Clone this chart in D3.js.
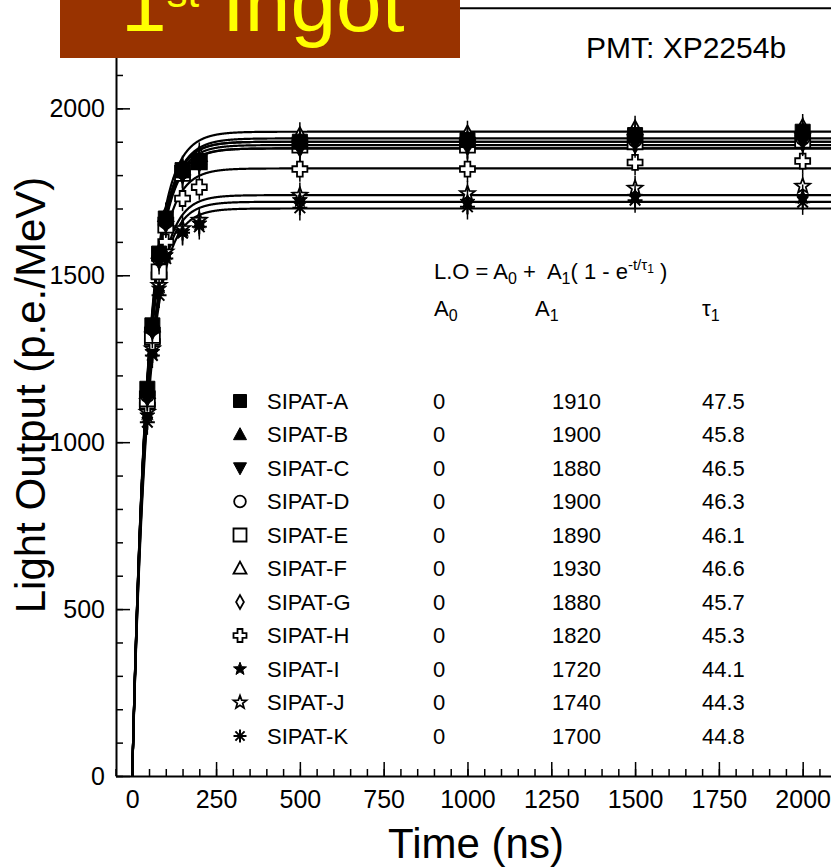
<!DOCTYPE html>
<html><head><meta charset="utf-8">
<script src="https://cdn.jsdelivr.net/npm/d3@7"></script>
<style>
html,body{margin:0;padding:0;background:#fff;}
svg{display:block;font-family:"Liberation Sans",Arial,Helvetica,sans-serif;}
text{white-space:pre;}
</style></head>
<body>
<svg id="c" width="831" height="868"></svg>
<script>
// ---------------- data ----------------
const times = [45, 60, 80, 100, 150, 200, 500, 1000, 1500, 2000];
const names = ["SIPAT-A","SIPAT-B","SIPAT-C","SIPAT-D","SIPAT-E","SIPAT-F","SIPAT-G","SIPAT-H","SIPAT-I","SIPAT-J","SIPAT-K"];
const markers = ["sqF","triF","triDF","circO","sqO","triO","diaO","crossO","starF","starO","aster"];
const A0 = [0,0,0,0,0,0,0,0,0,0,0];
const A1 = [1910,1900,1880,1900,1890,1930,1880,1820,1720,1740,1700];
const tau1 = [47.5,45.8,46.5,46.3,46.1,46.6,45.7,45.3,44.1,44.3,44.8];
const valsA = [1160,1350,1565,1670,1815,1840,1900,1905,1920,1930];
const valsB = [1150,1345,1560,1670,1810,1850,1905,1910,1925,1935];
const valsC = [1130,1330,1540,1650,1800,1840,1880,1885,1895,1900];
const valsD = [1140,1340,1550,1660,1810,1845,1895,1900,1905,1910];
const valsE = [1130,1320,1510,1650,1805,1840,1890,1890,1900,1905];
const valsF = [1150,1350,1570,1680,1820,1860,1920,1925,1940,1945];
const valsG = [1135,1335,1545,1655,1800,1835,1880,1885,1890,1895];
const valsH = [1110,1300,1500,1600,1730,1764,1818,1818,1838,1842];
const valsI = [1080,1270,1460,1560,1630,1655,1725,1720,1735,1734];
const valsJ = [1090,1280,1470,1570,1640,1665,1740,1745,1761,1767];
const valsK = [1060,1260,1440,1550,1627,1645,1702,1705,1725,1719];
const seriesVals = [valsA,valsB,valsC,valsD,valsE,valsF,valsG,valsH,valsI,valsJ,valsK];
const errBar = 38;
const xTicksMajor = [0,250,500,750,1000,1250,1500,1750,2000];
const yTicksMajor = [0,500,1000,1500,2000];

// ---------------- scales ----------------
const svg = d3.select("#c");
const X = d3.scaleLinear().domain([-50, 2100]).range([115.5, 836.2]);
const Y = d3.scaleLinear().domain([0, 2300]).range([776, 8.2]);

// ---------------- marker paths ----------------
function markerPath(type, s) {
  const h = s/2;
  const p = d3.path();
  switch (type) {
    case "sqF": case "sqO":
      p.rect(-h, -h, s, s); break;
    case "triF": case "triO":
      p.moveTo(0, -h*1.05); p.lineTo(h*1.0, h*0.8); p.lineTo(-h*1.0, h*0.8); p.closePath(); break;
    case "triDF":
      p.moveTo(0, h*1.05); p.lineTo(h*1.0, -h*0.8); p.lineTo(-h*1.0, -h*0.8); p.closePath(); break;
    case "circO":
      p.arc(0, 0, h*0.9, 0, 2*Math.PI); break;
    case "diaO":
      p.moveTo(0, -h*1.05); p.lineTo(h*0.6, 0); p.lineTo(0, h*1.05); p.lineTo(-h*0.6, 0); p.closePath(); break;
    case "crossO": {
      const a = h*0.38, b = h;
      p.moveTo(-a,-b); p.lineTo(a,-b); p.lineTo(a,-a); p.lineTo(b,-a); p.lineTo(b,a); p.lineTo(a,a);
      p.lineTo(a,b); p.lineTo(-a,b); p.lineTo(-a,a); p.lineTo(-b,a); p.lineTo(-b,-a); p.lineTo(-a,-a); p.closePath(); break;
    }
    case "starF": case "starO": {
      const R = h*1.05, r = R*0.42;
      for (let i=0;i<10;i++){
        const ang = -Math.PI/2 + i*Math.PI/5;
        const rr = i%2===0 ? R : r;
        const x = rr*Math.cos(ang), y = rr*Math.sin(ang);
        if (i===0) p.moveTo(x,y); else p.lineTo(x,y);
      }
      p.closePath(); break;
    }
    case "aster": {
      const R = h*1.0;
      for (let i=0;i<4;i++){
        const ang = i*Math.PI/4;
        p.moveTo(R*Math.cos(ang), R*Math.sin(ang));
        p.lineTo(-R*Math.cos(ang), -R*Math.sin(ang));
      }
      break;
    }
  }
  return p.toString();
}
function styleMarker(sel, type) {
  const filled = ["sqF","triF","triDF","starF"].includes(type);
  if (type === "aster") {
    sel.attr("fill","none").attr("stroke","#000").attr("stroke-width",2);
  } else if (filled) {
    sel.attr("fill","#000").attr("stroke","#000").attr("stroke-width",1);
  } else {
    sel.attr("fill","#fff").attr("stroke","#000").attr("stroke-width",1.8);
  }
}

// ---------------- axes ----------------
const gx = svg.append("g").attr("transform","translate(0,776)");
gx.call(d3.axisBottom(X).tickValues(d3.range(-50, 2101, 50)).tickSize(-7).tickSizeOuter(0).tickFormat(""));
gx.call(g => g.selectAll(".tick line").attr("stroke-width",1.5));
const gxM = svg.append("g").attr("transform","translate(0,776)");
gxM.call(d3.axisBottom(X).tickValues(xTicksMajor).tickSize(-14).tickSizeOuter(0).tickPadding(14).tickFormat(d3.format("d")));
gxM.select(".domain").remove();
gxM.selectAll(".tick line").attr("stroke-width",1.5);
gxM.selectAll("text").attr("font-size",25).attr("font-family","Liberation Sans, Arial, sans-serif");
gx.select(".domain").attr("stroke-width",2);

const gy = svg.append("g").attr("transform","translate(116,0)");
gy.call(d3.axisLeft(Y).tickValues(d3.range(0, 2301, 100)).tickSize(-7).tickSizeOuter(0).tickFormat(""));
gy.select(".domain").attr("stroke-width",2);
gy.selectAll(".tick line").attr("stroke-width",1.5);
const gyM = svg.append("g").attr("transform","translate(116,0)");
gyM.call(d3.axisLeft(Y).tickValues(yTicksMajor).tickSize(-14).tickSizeOuter(0).tickPadding(11).tickFormat(d3.format("d")));
gyM.select(".domain").remove();
gyM.selectAll(".tick line").attr("stroke-width",1.5);
gyM.selectAll("text").attr("font-size",25).attr("font-family","Liberation Sans, Arial, sans-serif");

// top frame line
svg.append("line").attr("x1",X(-50)).attr("x2",X(2100)).attr("y1",Y(2300)).attr("y2",Y(2300))
  .attr("stroke","#000").attr("stroke-width",2);

// axis titles
svg.append("text").attr("x",476).attr("y",858).attr("text-anchor","middle")
  .attr("font-size",42).text("Time (ns)");
svg.append("text").attr("transform","translate(45,395) rotate(-90)").attr("text-anchor","middle")
  .attr("font-size",42).text("Light Output (p.e./MeV)");

// ---------------- fit curves ----------------
const tGrid = d3.range(0, 2101, 1);
const line = d3.line().x(d => X(d[0])).y(d => Y(d[1]));
A1.forEach((a, i) => {
  const pts = tGrid.map(t => [t, A0[i] + a*(1 - Math.exp(-t / tau1[i]))]);
  svg.append("path").attr("d", line(pts)).attr("fill","none").attr("stroke","#000").attr("stroke-width",2.2);
});

// ---------------- data points (last series drawn first) ----------------
d3.range(seriesVals.length - 1, -1, -1).forEach(i => {
  const vals = seriesVals[i];
  const g = svg.append("g");
  vals.forEach((v, j) => {
    g.append("line").attr("x1",X(times[j])).attr("x2",X(times[j]))
      .attr("y1",Y(v-errBar)).attr("y2",Y(v+errBar)).attr("stroke","#000").attr("stroke-width",1.5);
  });
  vals.forEach((v, j) => {
    const m = g.append("path").attr("d", markerPath(markers[i], 15))
      .attr("transform",`translate(${X(times[j])},${Y(v)})`);
    styleMarker(m, markers[i]);
  });
});

// ---------------- legend / table ----------------
const rowY0 = 408.5, rowDy = 33.5;
const fs = 22;
names.forEach((n, i) => {
  const y = rowY0 + i*rowDy;
  const m = svg.append("path").attr("d", markerPath(markers[i], 13)).attr("transform",`translate(240,${y-7.5})`);
  styleMarker(m, markers[i]);
  svg.append("text").attr("x",267).attr("y",y).attr("font-size",fs).text(n);
  svg.append("text").attr("x",433).attr("y",y).attr("font-size",fs).text(A0[i]);
  svg.append("text").attr("x",601).attr("y",y).attr("text-anchor","end").attr("font-size",fs).text(A1[i]);
  svg.append("text").attr("x",702).attr("y",y).attr("font-size",fs).text(tau1[i].toFixed(1));
});

// formula
const f = svg.append("text").attr("x",434).attr("y",279).attr("font-size",22);
f.append("tspan").text("L.O = A");
f.append("tspan").attr("font-size",16).attr("dy",5).text("0");
f.append("tspan").attr("dy",-5).text(" +  A");
f.append("tspan").attr("font-size",16).attr("dy",5).text("1");
f.append("tspan").attr("dy",-5).text("( 1 - e");
f.append("tspan").attr("font-size",15).attr("dy",-9).text("-t/\u03c4");
f.append("tspan").attr("font-size",12).attr("dy",3).text("1");
f.append("tspan").attr("dy",6).text(" )");

const a0 = svg.append("text").attr("x",434).attr("y",316).attr("font-size",22);
a0.append("tspan").text("A"); a0.append("tspan").attr("font-size",16).attr("dy",5).text("0");
const a1 = svg.append("text").attr("x",535).attr("y",316).attr("font-size",22);
a1.append("tspan").text("A"); a1.append("tspan").attr("font-size",16).attr("dy",5).text("1");
const t1 = svg.append("text").attr("x",702).attr("y",316).attr("font-size",22);
t1.append("tspan").text("\u03c4"); t1.append("tspan").attr("font-size",16).attr("dy",5).text("1");

// PMT label
svg.append("text").attr("x",586).attr("y",58).attr("font-size",30).text("PMT: XP2254b");

// ---------------- title box ----------------
svg.append("rect").attr("x",60).attr("y",0).attr("width",400).attr("height",58).attr("fill","#993300");
const tt = svg.append("text").attr("x",121).attr("y",31).attr("font-size",82).attr("fill","#ffff00");
tt.append("tspan").text("1");
tt.append("tspan").attr("font-size",42).attr("dy",-24).text("st");
tt.append("tspan").attr("dy",24).text(" Ingot");
</script>
</body></html>
